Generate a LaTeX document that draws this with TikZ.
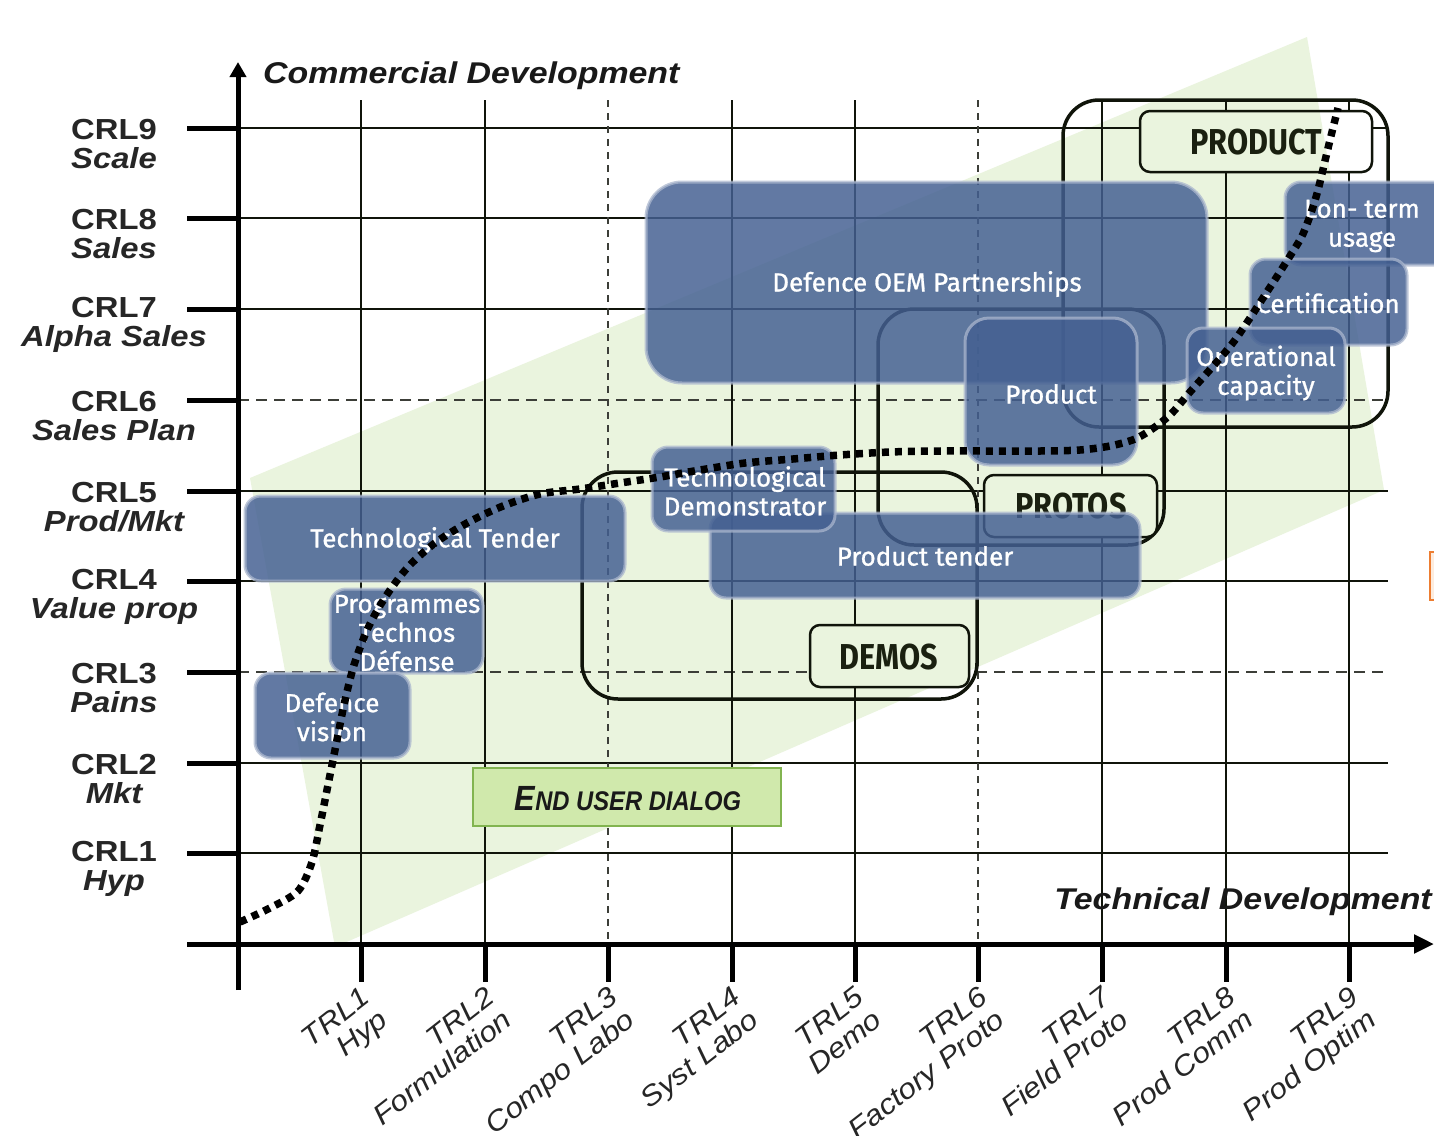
\documentclass[tikz,border=0pt]{standalone}
\usepackage{fontspec}
\setmainfont{Liberation Sans}
\newfontfamily\axf[FakeStretch=1.13]{Liberation Sans}
\newfontfamily\boxf[FakeBold=1.0]{Fira Sans}
\newfontfamily\lblf[FakeStretch=0.85]{Fira Sans}
\newfontfamily\eudf[FakeStretch=0.88]{Liberation Sans}
\usetikzlibrary{arrows.meta}
\definecolor{bandc}{RGB}{234,244,222}
\definecolor{boxblue}{RGB}{68,96,146}
\definecolor{gridc}{RGB}{16,20,10}
\definecolor{dashc}{RGB}{60,62,56}
\definecolor{eudfill}{RGB}{208,233,172}
\definecolor{euddraw}{RGB}{130,180,80}
\definecolor{lbltext}{RGB}{26,32,16}
\definecolor{orfill}{RGB}{253,236,222}
\definecolor{ordraw}{RGB}{237,125,49}
\tikzset{
  gridl/.style={draw=gridc, line width=2.4pt},
  gridthin/.style={draw=gridc, line width=1.7pt},
  gridd/.style={draw=dashc, line width=2.2pt, dash pattern=on 11pt off 7pt},
  gridv/.style={draw=dashc, line width=2pt, dash pattern=on 7pt off 6pt},
  tickl/.style={draw=black, line width=5pt},
  axisl/.style={draw=black, line width=5pt},
  framel/.style={draw=gridc, line width=3.5pt, rounded corners=36pt},
  lboxl/.style={draw=gridc, line width=2.5pt, rounded corners=10pt},
  bbox/.style={fill=boxblue, fill opacity=0.84, draw=white!55!boxblue, draw opacity=0.75, line width=3pt},
  btext/.style={text=white, font=\boxf\fontsize{26}{29}\selectfont, align=center, inner sep=0pt},
  crl/.style={font=\axf\bfseries\fontsize{29}{28.5}\selectfont, text=black!85, align=center, inner sep=0pt},
  trl/.style={font=\axf\itshape\fontsize{28}{29}\selectfont, text=black!85, align=right, inner sep=0pt, rotate=38, anchor=north east},
  axlab/.style={font=\axf\bfseries\itshape\fontsize{30}{30}\selectfont, text=black!90, inner sep=0pt},
  lbltxt/.style={font=\lblf\bfseries\fontsize{36}{36}\selectfont, text=lbltext, inner sep=0pt},
  dotc/.style={draw=black, line width=7.5pt, dash pattern=on 7pt off 6pt},
}
\begin{document}
\begin{tikzpicture}[x=1pt,y=-1pt]
\useasboundingbox (0,0) rectangle (1434,1135);
\fill[white] (0,0) rectangle (1434,1135);
% green band
\fill[bandc] (250,478) -- (1307,37) -- (1384,490) -- (335,947) -- cycle;
% horizontal grid
\foreach \y in {128,218,309,491,581,763,853} \draw[gridl] (238,\y) -- (1388,\y);
\foreach \y in {400,672} \draw[gridd] (238,\y) -- (1388,\y);
\foreach \y in {128,218,309,400,491,581,672,763,853} \draw[tickl] (187,\y) -- (238,\y);
% vertical grid
\foreach \x in {485,732,1102,1226,1349} \draw[gridl] (\x,100) -- (\x,944);
\foreach \x in {361,855} \draw[gridthin] (\x,100) -- (\x,944);
\foreach \x in {608,978} \draw[gridv] (\x,100) -- (\x,944);
\foreach \x in {361,485,608,732,855,978,1102,1226,1349} \draw[tickl] (\x,944) -- (\x,982);
% axes
\draw[axisl, -{Triangle[length=15pt,width=16pt]}] (238,990) -- (238,62);
\draw[axisl, -{Triangle[length=20pt,width=18pt]}] (187,944) -- (1434,944);
% frames
\draw[framel] (1063,100) rectangle (1388,427);
\draw[framel] (878,309) rectangle (1164,545);
\draw[framel] (582,472) rectangle (977,699);
% label boxes
\fill[white, rounded corners=10pt] (1140,111) rectangle (1372,172);
\begin{scope}
\clip[rounded corners=10pt] (1140,111) rectangle (1372,172);
\fill[bandc] (250,478) -- (1307,37) -- (1384,490) -- (335,947) -- cycle;
\end{scope}
\draw[lboxl] (1140,111) rectangle (1372,172);
\node[lbltxt] (product) at (1256,142) {PRODUCT};
\fill[bandc, rounded corners=10pt] (984,475) rectangle (1157,537);
\draw[lboxl] (984,475) rectangle (1157,537);
\node[lbltxt] (protos) at (1071,506) {PROTOS};
\fill[bandc, rounded corners=10pt] (810,625) rectangle (969,687);
\draw[lboxl] (810,625) rectangle (969,687);
\node[lbltxt] (demos) at (889,657) {DEMOS};
% end user dialog
\draw[fill=eudfill, draw=euddraw, line width=1.6pt] (473,768) rectangle (781,826);
\node[font=\eudf\bfseries\itshape, text=black!90, inner sep=0pt] (eud) at (628,799)
  {\fontsize{35}{35}\selectfont E\fontsize{27}{27}\selectfont ND USER DIALOG};
% orange fragment
\draw[fill=orfill, draw=ordraw, line width=1.5pt] (1430,552) rectangle (1450,600);
% blue boxes
\draw[bbox, rounded corners=36pt] (646,182) rectangle (1207,383);
\draw[bbox, rounded corners=24pt] (965,318) rectangle (1137,465);
\draw[bbox, rounded corners=16pt] (1285,182) rectangle (1460,265);
\draw[bbox, rounded corners=16pt] (1250,259) rectangle (1407,345);
\draw[bbox, rounded corners=16pt] (1187,328) rectangle (1345,413);
\draw[bbox, rounded corners=16pt] (710,513) rectangle (1140,598);
\draw[bbox, rounded corners=16pt] (652,447) rectangle (835,531);
\draw[bbox, rounded corners=16pt] (245,496) rectangle (625,581);
\draw[bbox, rounded corners=16pt] (330,589) rectangle (483,673);
\draw[bbox, rounded corners=16pt] (255,673) rectangle (410,758);
\node[btext] (oem) at (927,284) {Defence OEM Partnerships};
\node[btext] (prod) at (1051,394) {Product};
\node[btext] (lon) at (1362,226) {Lon- term\\usage};
\node[btext] (cert) at (1328,303) {Certification};
\node[btext] (opcap) at (1266,373) {Operational\\capacity};
\node[btext] (ptender) at (925,556) {Product tender};
\node[btext] (tdemo) at (745,491) {Technological\\Demonstrator};
\node[btext] (ttender) at (435,540) {Technological Tender};
\node[btext] (progs) at (407,633) {Programmes\\Technos\\Défense};
\node[btext] (dvis) at (332,717) {Defence\\vision};
% axis labels
\node[axlab, anchor=west] (cd) at (263,76) {Commercial Development};
\node[axlab, anchor=east] (td) at (1432,902) {Technical Development};
\foreach \y/\a/\b in {128/9/Scale, 218/8/Sales, 309/7/Alpha Sales, 400/6/Sales Plan, 491/5/{Prod/Mkt}, 581/4/Value prop, 672/3/Pains, 763/2/Mkt, 853/1/Hyp}
  \node[crl] (crl\a) at (114,\y+16) {CRL\a\\\itshape\b};
\foreach \x/\a/\b in {361/1/Hyp, 485/2/Formulation, 608/3/Compo Labo, 732/4/Syst Labo, 855/5/Demo, 978/6/Factory Proto, 1102/7/Field Proto, 1226/8/Prod Comm, 1349/9/Prod Optim}
  \node[trl] (trl\a) at (\x-1,985) {TRL\a\\\b};
% dotted maturity curve
\draw[dotc] plot[smooth, tension=0.5] coordinates {(240,922) (270,908) (298,891) (312,862) (320,825) (328,785) (336,745) (344,705) (354,665) (368,628) (386,596) (408,567) (435,543) (467,523) (503,506) (540,494) (580,489) (620,483) (660,477) (700,470) (745,463) (793,459) (840,455) (890,452) (940,451) (990,451) (1040,451) (1080,450) (1110,446) (1135,439) (1155,427) (1172,413) (1190,392) (1207,373) (1222,356) (1235,340) (1250,318) (1263,298) (1276,278) (1290,256) (1302,236) (1311,213) (1318,190) (1324,165) (1330,140) (1338,108)};
\end{tikzpicture}
\end{document}
